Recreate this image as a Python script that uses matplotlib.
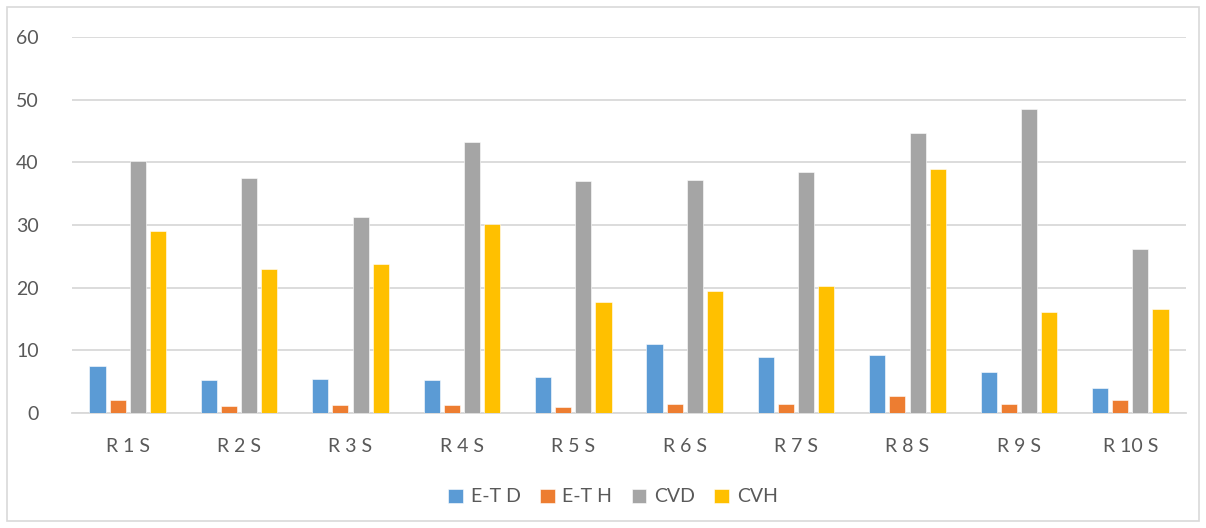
import matplotlib.pyplot as plt
import numpy as np
from matplotlib.patches import Rectangle

categories = ['R 1 S', 'R 2 S', 'R 3 S', 'R 4 S', 'R 5 S',
              'R 6 S', 'R 7 S', 'R 8 S', 'R 9 S', 'R 10 S']
series_names = ['E-T D', 'E-T H', 'CVD', 'CVH']
etd = [7.5, 5.2, 5.5, 5.3, 5.8, 11.0, 8.9, 9.2, 6.5, 4.0]
eth = [2.0, 1.1, 1.3, 1.2, 1.0, 1.4, 1.5, 2.7, 1.5, 2.1]
cvd = [40.2, 37.5, 31.2, 43.2, 37.1, 37.2, 38.4, 44.7, 48.5, 26.2]
cvh = [29.1, 23.0, 23.7, 30.2, 17.7, 19.4, 20.2, 38.9, 16.1, 16.6]
colors = ['#5b9bd5', '#ed7d31', '#a5a5a5', '#ffc000']

plt.rcParams['font.family'] = ['Lato', 'DejaVu Sans']
text_color = '#595959'
grid_color = '#d9d9d9'

fig = plt.figure(figsize=(12.06, 5.28), dpi=100)
ax = fig.add_axes([72 / 1206, 1 - 413 / 528, (1186 - 72) / 1206, (413 - 37) / 528])

x = np.arange(len(categories))
pitch = 0.181
width = 0.145
for k, (vals, name, col) in enumerate(zip([etd, eth, cvd, cvh], series_names, colors)):
    ax.bar(x + (k - 1.5) * pitch, vals, width, color=col, label=name,
           edgecolor='white', linewidth=0.4, zorder=3)

ax.set_xlim(-0.5, len(categories) - 0.5)
ax.set_ylim(0, 60)
ax.set_yticks(range(0, 61, 10))
ax.set_xticks(x)
ax.set_xticklabels(categories)
ax.yaxis.grid(True, color=grid_color, linewidth=1.3, zorder=0)
ax.tick_params(axis='both', length=0, labelsize=14, labelcolor=text_color)
ax.tick_params(axis='y', pad=24)
ax.tick_params(axis='x', pad=18)
for side in ['left', 'right', 'top']:
    ax.spines[side].set_visible(False)
ax.spines['bottom'].set_color(grid_color)
ax.spines['bottom'].set_linewidth(1.3)

leg = fig.legend(loc='center', bbox_to_anchor=(613 / 1206, 1 - 497 / 528), ncol=4,
                 frameon=False, fontsize=14, handlelength=0.75, handleheight=0.75,
                 handletextpad=0.4, columnspacing=1.0)
for t in leg.get_texts():
    t.set_color(text_color)

fig.patches.append(Rectangle((7 / 1206, 7 / 528), 1192 / 1206, 514 / 528,
                             transform=fig.transFigure, fill=False,
                             edgecolor=grid_color, linewidth=1.2))

fig.savefig('out.png', dpi=100)
